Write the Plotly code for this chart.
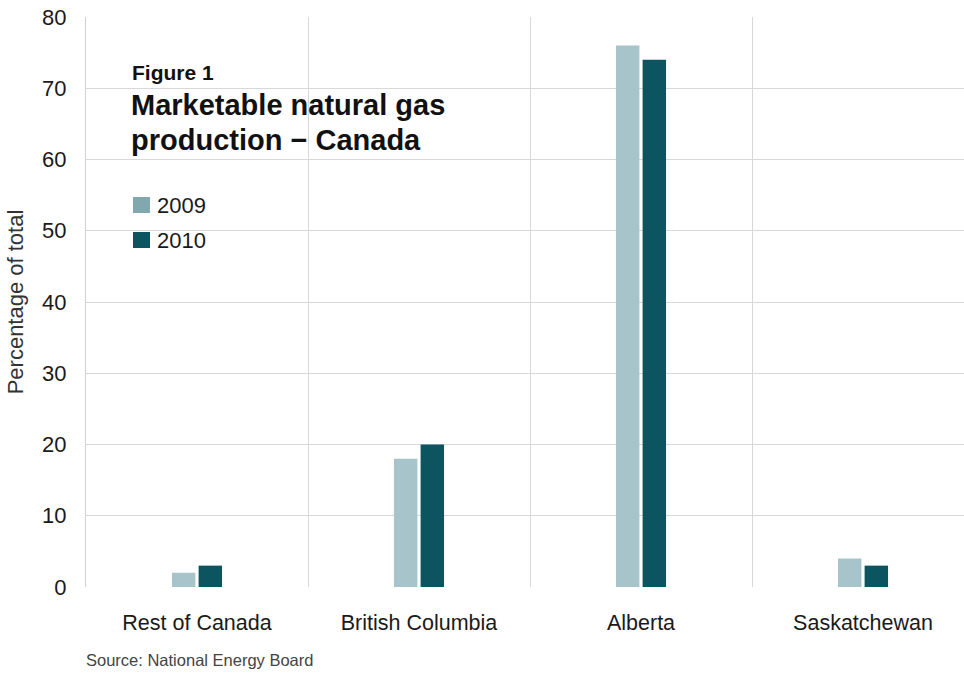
import plotly.graph_objects as go

# Share of marketable natural gas production by region (% of total)
regions = ["Rest of Canada", "British Columbia", "Alberta", "Saskatchewan"]
years = ["2009", "2010"]
share_2009 = [2, 18, 76, 4]
share_2010 = [3, 20, 74, 3]
y_ticks = [0, 10, 20, 30, 40, 50, 60, 70, 80]

bar_colors = {"2009": "#a6c4c9", "2010": "#0b5460"}
key_colors = {"2009": "#80a8ae", "2010": "#0b5460"}

FONT = "Liberation Sans, Arial, sans-serif"
W, H = 964, 673
M_L, M_R, M_T, M_B = 86, 0, 17, 86
plot_w = W - M_L - M_R
plot_h = H - M_T - M_B

x_pos = list(range(len(regions)))

fig = go.Figure()
for yr, vals in zip(years, [share_2009, share_2010]):
    fig.add_trace(go.Bar(
        x=x_pos, y=vals, name=yr,
        marker=dict(color=bar_colors[yr], line=dict(width=0)),
        showlegend=False,
    ))

# Hand-drawn key (swatch + label), placed in plot-area fractions
def px_to_paper_x(px):
    return (px - M_L) / plot_w

def px_to_paper_y(py):
    return (H - M_B - py) / plot_h

shapes = []
annotations = []
for yr, top in zip(years, [197, 232]):
    shapes.append(dict(
        type="rect", xref="paper", yref="paper",
        x0=px_to_paper_x(133), x1=px_to_paper_x(150),
        y0=px_to_paper_y(top + 16), y1=px_to_paper_y(top),
        fillcolor=key_colors[yr], line=dict(width=0), layer="above",
    ))
    annotations.append(dict(
        text=yr, xref="paper", yref="paper",
        x=px_to_paper_x(155), y=px_to_paper_y(top + 8),
        xanchor="left", yanchor="middle", showarrow=False,
        font=dict(family=FONT, size=22, color="#1a1a1a"),
    ))

# Title block inside the plot
annotations.append(dict(
    text="<b>Figure 1</b>", xref="paper", yref="paper",
    x=px_to_paper_x(130), y=px_to_paper_y(73),
    xanchor="left", yanchor="middle", showarrow=False,
    font=dict(family=FONT, size=21, color="#111111"),
))
for line, cy in [("Marketable natural gas", 105), ("production \u2212 Canada", 140)]:
    annotations.append(dict(
        text="<b>" + line + "</b>", xref="paper", yref="paper",
        x=px_to_paper_x(129), y=px_to_paper_y(cy),
        xanchor="left", yanchor="middle", showarrow=False,
        font=dict(family=FONT, size=29, color="#111111"),
    ))

# Source note
annotations.append(dict(
    text="Source: National Energy Board", xref="paper", yref="paper",
    x=px_to_paper_x(84), y=px_to_paper_y(660),
    xanchor="left", yanchor="middle", showarrow=False,
    font=dict(family=FONT, size=16.5, color="#444444"),
))

fig.update_layout(
    width=W, height=H,
    margin=dict(l=M_L, r=M_R, t=M_T, b=M_B),
    paper_bgcolor="white", plot_bgcolor="white",
    barmode="group", bargap=0.76, bargroupgap=0.12,
    font=dict(family=FONT, color="#222222"),
    shapes=shapes, annotations=annotations,
    xaxis=dict(
        range=[-0.5, -0.5 + plot_w / 222.0],
        tickvals=x_pos, ticktext=regions,
        tickfont=dict(family=FONT, size=21.5, color="#1a1a1a"),
        showgrid=False, zeroline=False,
        ticks="", ticklen=0, ticklabelstandoff=20,
        minor=dict(tick0=0.5, dtick=1, showgrid=True,
                   gridcolor="#d8d8d8", gridwidth=1, ticks=""),
        showline=False,
    ),
    yaxis=dict(
        range=[0, 80], tickvals=y_ticks,
        tickfont=dict(family=FONT, size=22, color="#1a1a1a"),
        showgrid=True, gridcolor="#d8d8d8", gridwidth=1,
        zeroline=False, ticks="", ticklabelstandoff=14,
        showline=True, linecolor="#d0d0d0", linewidth=1,
        title=dict(text="Percentage of total",
                   font=dict(family=FONT, size=22, color="#333333"),
                   standoff=12),
    ),
)

fig.write_html("out.html")
